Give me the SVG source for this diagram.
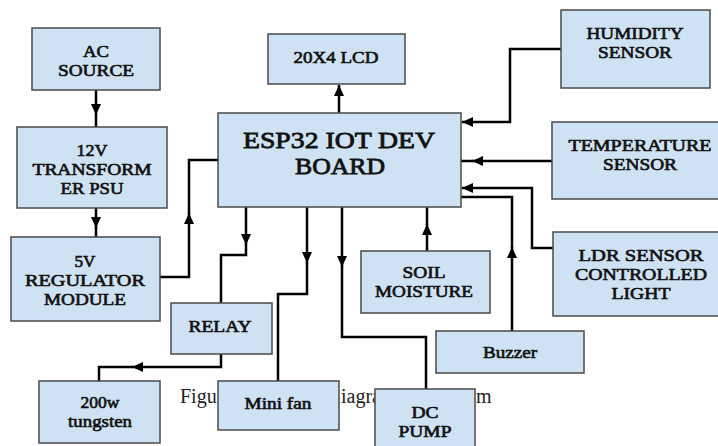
<svg xmlns="http://www.w3.org/2000/svg" width="718" height="446" viewBox="0 0 718 446">
<defs>
<style>
.box{fill:#cfe2f3;stroke:#4a4a4a;stroke-width:1.5}
.lbl{font-family:"Liberation Serif","Times New Roman",serif;font-weight:normal;font-size:17.5px;fill:#111;stroke:#111;stroke-width:0.65;text-anchor:middle}
.big{font-size:24px;stroke-width:0.8}
.cap{font-family:"Liberation Serif","Times New Roman",serif;font-size:20px;fill:#222}
.wire{fill:none;stroke:#000;stroke-width:2.5}
</style>
<marker id="ah" markerUnits="userSpaceOnUse" markerWidth="12" markerHeight="10" refX="11" refY="5" orient="auto">
<path d="M0,0 L11,5 L0,10 z" fill="#000"/>
</marker>
</defs>
<rect width="718" height="446" fill="#fff"/>
<g id="caption">
<text class="cap" x="180" y="403">Figu</text>
<text class="cap" x="341" y="403">iagra</text>
<text class="cap" x="476" y="403">m</text>
</g>
<g id="connectors">
<path class="wire" d="M96,90 V115" marker-end="url(#ah)"/><path class="wire" d="M96,114 V127"/>
<path class="wire" d="M96,208 V228" marker-end="url(#ah)"/><path class="wire" d="M96,227 V237"/>
<path class="wire" d="M160,277 H189 V213" marker-end="url(#ah)"/><path class="wire" d="M189,214 V160 H218"/>
<path class="wire" d="M339,113 V85" marker-end="url(#ah)"/>
<path class="wire" d="M561,49 H510 V122 H462" marker-end="url(#ah)"/>
<path class="wire" d="M552,161 H472" marker-end="url(#ah)"/><path class="wire" d="M473,161 H461"/>
<path class="wire" d="M553,248 H532 V188 H462" marker-end="url(#ah)"/>
<path class="wire" d="M512,331 V247" marker-end="url(#ah)"/><path class="wire" d="M512,248 V197 H461"/>
<path class="wire" d="M427,251 V224" marker-end="url(#ah)"/><path class="wire" d="M427,225 V207"/>
<path class="wire" d="M246,207 V245" marker-end="url(#ah)"/><path class="wire" d="M246,244 V255 H221 V303"/>
<path class="wire" d="M221,354 V367 H132" marker-end="url(#ah)"/><path class="wire" d="M133,367 H99 V381"/>
<path class="wire" d="M307,207 V263" marker-end="url(#ah)"/><path class="wire" d="M307,262 V294 H278 V381"/>
<path class="wire" d="M342,207 V267" marker-end="url(#ah)"/><path class="wire" d="M342,266 V337 H426 V389"/>
</g>
<g id="ac-source"><rect class="box" x="32" y="28" width="128" height="62"/><text class="lbl" x="96" y="57" textLength="26" lengthAdjust="spacingAndGlyphs">AC</text><text class="lbl" x="96" y="76" textLength="76" lengthAdjust="spacingAndGlyphs">SOURCE</text></g>
<g id="transformer"><rect class="box" x="17" y="127" width="150" height="81"/><text class="lbl" x="92" y="156" textLength="31" lengthAdjust="spacingAndGlyphs">12V</text><text class="lbl" x="92" y="175" textLength="119" lengthAdjust="spacingAndGlyphs">TRANSFORM</text><text class="lbl" x="92" y="194" textLength="63" lengthAdjust="spacingAndGlyphs">ER PSU</text></g>
<g id="regulator"><rect class="box" x="11" y="237" width="149" height="84"/><text class="lbl" x="85" y="267" textLength="21" lengthAdjust="spacingAndGlyphs">5V</text><text class="lbl" x="85" y="286" textLength="120" lengthAdjust="spacingAndGlyphs">REGULATOR</text><text class="lbl" x="85" y="305" textLength="82" lengthAdjust="spacingAndGlyphs">MODULE</text></g>
<g id="relay"><rect class="box" x="171" y="303" width="101" height="51"/><text class="lbl" x="220" y="332" textLength="63" lengthAdjust="spacingAndGlyphs">RELAY</text></g>
<g id="tungsten"><rect class="box" x="39" y="381" width="121" height="62"/><text class="lbl" x="100" y="408" textLength="39" lengthAdjust="spacingAndGlyphs">200w</text><text class="lbl" x="100" y="427" textLength="64" lengthAdjust="spacingAndGlyphs">tungsten</text></g>
<g id="mini-fan"><rect class="box" x="218" y="381" width="121" height="49"/><text class="lbl" x="278" y="409" textLength="67" lengthAdjust="spacingAndGlyphs">Mini fan</text></g>
<g id="lcd"><rect class="box" x="268" y="34" width="137" height="50"/><text class="lbl" x="336" y="63" textLength="85" lengthAdjust="spacingAndGlyphs">20X4 LCD</text></g>
<g id="esp32"><rect class="box" x="218" y="113" width="243" height="94"/><text class="lbl big" x="339" y="148" textLength="192" lengthAdjust="spacingAndGlyphs">ESP32 IOT DEV</text><text class="lbl big" x="340" y="174" textLength="90" lengthAdjust="spacingAndGlyphs">BOARD</text></g>
<g id="humidity"><rect class="box" x="561" y="10" width="149" height="78"/><text class="lbl" x="635" y="39" textLength="97" lengthAdjust="spacingAndGlyphs">HUMIDITY</text><text class="lbl" x="635" y="58" textLength="74" lengthAdjust="spacingAndGlyphs">SENSOR</text></g>
<g id="temperature"><rect class="box" x="552" y="122" width="170" height="77"/><text class="lbl" x="640" y="151" textLength="143" lengthAdjust="spacingAndGlyphs">TEMPERATURE</text><text class="lbl" x="640" y="170" textLength="74" lengthAdjust="spacingAndGlyphs">SENSOR</text></g>
<g id="ldr"><rect class="box" x="553" y="232" width="170" height="84"/><text class="lbl" x="641" y="261" textLength="125" lengthAdjust="spacingAndGlyphs">LDR SENSOR</text><text class="lbl" x="641" y="280" textLength="132" lengthAdjust="spacingAndGlyphs">CONTROLLED</text><text class="lbl" x="641" y="299" textLength="59" lengthAdjust="spacingAndGlyphs">LIGHT</text></g>
<g id="soil"><rect class="box" x="361" y="251" width="129" height="62"/><text class="lbl" x="424" y="278" textLength="43" lengthAdjust="spacingAndGlyphs">SOIL</text><text class="lbl" x="424" y="297" textLength="98" lengthAdjust="spacingAndGlyphs">MOISTURE</text></g>
<g id="buzzer"><rect class="box" x="436" y="331" width="148" height="42"/><text class="lbl" x="510" y="358" textLength="54" lengthAdjust="spacingAndGlyphs">Buzzer</text></g>
<g id="dc-pump"><rect class="box" x="375" y="389" width="100" height="62"/><text class="lbl" x="425" y="418" textLength="27" lengthAdjust="spacingAndGlyphs">DC</text><text class="lbl" x="425" y="437" textLength="53" lengthAdjust="spacingAndGlyphs">PUMP</text></g>
</svg>
